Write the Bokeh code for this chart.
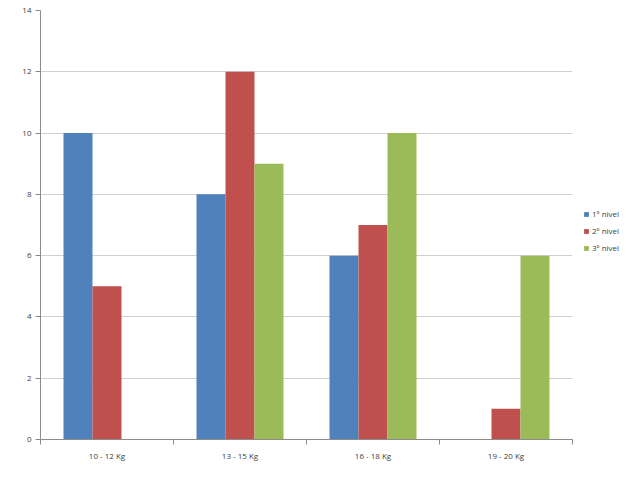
from bokeh.plotting import figure
from bokeh.models import ColumnDataSource, Legend, LegendItem, FixedTicker, Range1d
from bokeh.embed import file_html
from bokeh.resources import INLINE

categories = ["10 - 12 Kg", "13 - 15 Kg", "16 - 18 Kg", "19 - 20 Kg"]
series_names = ["1º nivel", "2º nivel", "3º nivel"]
nivel1 = [10, 8, 6, 0]
nivel2 = [5, 12, 7, 1]
nivel3 = [0, 9, 10, 6]
colors = ["#4F81BD", "#C0504D", "#9BBB59"]
y_ticks = [0, 2, 4, 6, 8, 10, 12, 14]

p = figure(frame_width=532, frame_height=429, output_backend="svg", toolbar_location=None,
           x_range=Range1d(0, len(categories)), y_range=Range1d(0, 14),
           min_border_left=40, min_border_top=10, min_border_bottom=41, min_border_right=0)
p.outline_line_color = None
p.background_fill_color = "white"

bw = 0.218
offsets = [-bw, 0, bw]
renderers = []
for vals, off, col in zip([nivel1, nivel2, nivel3], offsets, colors):
    src = ColumnDataSource(dict(x=[i + 0.5 + off for i in range(len(categories))], top=vals))
    r = p.vbar(x="x", top="top", bottom=0, width=bw, source=src, fill_color=col, line_color=None)
    renderers.append(r)

# y axis
p.yaxis.ticker = FixedTicker(ticks=y_ticks)
p.yaxis.axis_line_color = "#8c8c8c"
p.yaxis.major_tick_line_color = "#8c8c8c"
p.yaxis.major_tick_out = 5
p.yaxis.major_tick_in = 0
p.yaxis.minor_tick_line_color = None
p.yaxis.major_label_text_font = "Open Sans"
p.yaxis.major_label_text_font_size = "8px"
p.yaxis.major_label_text_color = "#404040"
p.yaxis.major_label_standoff = 4

# x axis: labels at category centers, tick marks at boundaries
p.xaxis.ticker = FixedTicker(ticks=[i + 0.5 for i in range(len(categories))],
                             minor_ticks=list(range(len(categories) + 1)))
p.xaxis.major_label_overrides = {i + 0.5: c for i, c in enumerate(categories)}
p.xaxis.major_tick_line_color = None
p.xaxis.minor_tick_line_color = "#8c8c8c"
p.xaxis.minor_tick_out = 5
p.xaxis.minor_tick_in = 0
p.xaxis.axis_line_color = "#8c8c8c"
p.xaxis.major_label_text_font = "Open Sans"
p.xaxis.major_label_text_font_size = "8px"
p.xaxis.major_label_text_color = "#404040"
p.xaxis.major_label_standoff = 4

p.xgrid.grid_line_color = None
p.ygrid.grid_line_color = "#d0d0d0"
p.ygrid.ticker = FixedTicker(ticks=y_ticks[1:])

legend = Legend(items=[LegendItem(label=n, renderers=[r]) for n, r in zip(series_names, renderers)],
                location=(11, 186), orientation="vertical",
                label_text_font="Open Sans", label_text_font_size="8px",
                label_text_color="#404040", glyph_width=6, glyph_height=6,
                label_height=10, label_standoff=3, spacing=6, padding=0, margin=11,
                border_line_color=None, background_fill_alpha=0)
p.add_layout(legend, "right")

open("out.html", "w").write(file_html(p, INLINE))
